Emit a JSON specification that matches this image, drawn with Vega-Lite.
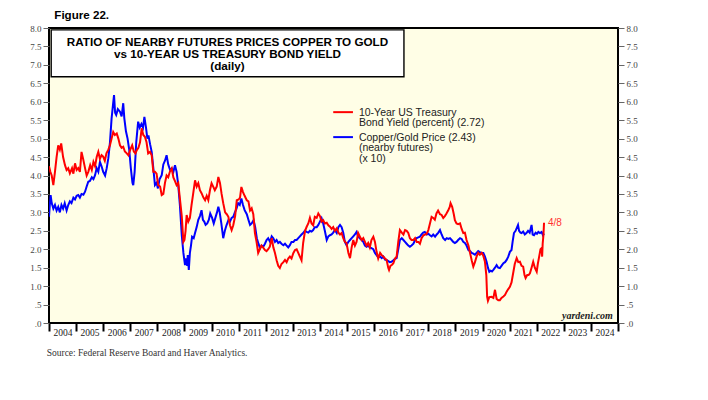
{
  "$schema": "https://vega.github.io/schema/vega-lite/v6.json",
  "width": 569,
  "height": 295,
  "autosize": {"type": "none"},
  "padding": {"left": 49, "top": 28, "right": 90, "bottom": 77},
  "background": "white",
  "config": {
    "view": {"fill": "#fffee6", "stroke": "black", "strokeWidth": 2}
  },
  "datasets": {
    "yld": [
      {"t":2004.00,"v":4.25},{"t":2004.05,"v":4.1},{"t":2004.10,"v":4.0},{"t":2004.16,"v":3.74},{"t":2004.22,"v":4.1},{"t":2004.28,"v":4.5},{"t":2004.34,"v":4.82},{"t":2004.40,"v":4.7},{"t":2004.45,"v":4.87},{"t":2004.52,"v":4.5},{"t":2004.59,"v":4.28},{"t":2004.65,"v":4.15},{"t":2004.71,"v":4.2},{"t":2004.77,"v":4.06},{"t":2004.85,"v":4.2},{"t":2004.90,"v":4.05},{"t":2004.96,"v":4.33},
      {"t":2005.02,"v":4.15},{"t":2005.08,"v":4.2},{"t":2005.14,"v":4.1},{"t":2005.20,"v":4.64},{"t":2005.26,"v":4.45},{"t":2005.33,"v":4.2},{"t":2005.39,"v":4.0},{"t":2005.45,"v":4.1},{"t":2005.52,"v":4.28},{"t":2005.58,"v":4.15},{"t":2005.64,"v":4.37},{"t":2005.70,"v":4.25},{"t":2005.76,"v":4.5},{"t":2005.82,"v":4.64},{"t":2005.88,"v":4.45},{"t":2005.94,"v":4.55},
      {"t":2006.00,"v":4.51},{"t":2006.06,"v":4.4},{"t":2006.12,"v":4.6},{"t":2006.19,"v":4.7},{"t":2006.25,"v":4.82},{"t":2006.31,"v":5.0},{"t":2006.37,"v":5.18},{"t":2006.43,"v":5.1},{"t":2006.50,"v":5.14},{"t":2006.56,"v":5.0},{"t":2006.62,"v":4.82},{"t":2006.68,"v":4.75},{"t":2006.74,"v":4.78},{"t":2006.80,"v":4.65},{"t":2006.87,"v":4.6},{"t":2006.93,"v":4.55},
      {"t":2007.00,"v":4.7},{"t":2007.07,"v":4.82},{"t":2007.13,"v":4.65},{"t":2007.19,"v":4.6},{"t":2007.24,"v":4.69},{"t":2007.30,"v":4.75},{"t":2007.36,"v":4.9},{"t":2007.42,"v":5.28},{"t":2007.48,"v":5.1},{"t":2007.54,"v":5.05},{"t":2007.60,"v":4.9},{"t":2007.66,"v":4.6},{"t":2007.73,"v":4.64},{"t":2007.79,"v":4.55},{"t":2007.85,"v":4.1},{"t":2007.91,"v":4.1},{"t":2007.97,"v":4.05},
      {"t":2008.03,"v":3.74},{"t":2008.10,"v":3.7},{"t":2008.16,"v":3.47},{"t":2008.22,"v":3.5},{"t":2008.28,"v":3.8},{"t":2008.34,"v":4.0},{"t":2008.40,"v":3.95},{"t":2008.46,"v":4.1},{"t":2008.53,"v":4.19},{"t":2008.59,"v":3.95},{"t":2008.65,"v":3.85},{"t":2008.71,"v":3.74},{"t":2008.77,"v":3.8},{"t":2008.83,"v":3.38},{"t":2008.90,"v":2.9},{"t":2008.96,"v":2.2},
      {"t":2009.00,"v":2.25},{"t":2009.04,"v":2.5},{"t":2009.08,"v":2.93},{"t":2009.14,"v":2.75},{"t":2009.20,"v":2.85},{"t":2009.26,"v":3.2},{"t":2009.32,"v":3.5},{"t":2009.39,"v":3.87},{"t":2009.45,"v":3.7},{"t":2009.51,"v":3.79},{"t":2009.57,"v":3.6},{"t":2009.63,"v":3.52},{"t":2009.70,"v":3.4},{"t":2009.76,"v":3.33},{"t":2009.82,"v":3.45},{"t":2009.88,"v":3.33},{"t":2009.94,"v":3.6},
      {"t":2010.00,"v":3.79},{"t":2010.06,"v":3.7},{"t":2010.12,"v":3.6},{"t":2010.19,"v":3.7},{"t":2010.25,"v":3.96},{"t":2010.31,"v":3.8},{"t":2010.37,"v":3.5},{"t":2010.43,"v":3.25},{"t":2010.50,"v":3.0},{"t":2010.56,"v":2.95},{"t":2010.62,"v":2.88},{"t":2010.68,"v":2.65},{"t":2010.74,"v":2.52},{"t":2010.80,"v":2.65},{"t":2010.87,"v":2.9},{"t":2010.93,"v":3.33},
      {"t":2011.00,"v":3.35},{"t":2011.05,"v":3.4},{"t":2011.10,"v":3.69},{"t":2011.16,"v":3.55},{"t":2011.22,"v":3.45},{"t":2011.30,"v":3.33},{"t":2011.36,"v":3.3},{"t":2011.42,"v":3.05},{"t":2011.48,"v":3.11},{"t":2011.54,"v":2.95},{"t":2011.60,"v":2.44},{"t":2011.66,"v":2.2},{"t":2011.72,"v":1.9},{"t":2011.78,"v":2.0},{"t":2011.84,"v":2.1},{"t":2011.90,"v":2.05},{"t":2011.97,"v":1.98},
      {"t":2012.03,"v":1.95},{"t":2012.09,"v":2.0},{"t":2012.15,"v":2.07},{"t":2012.22,"v":2.3},{"t":2012.28,"v":2.05},{"t":2012.34,"v":1.9},{"t":2012.40,"v":1.7},{"t":2012.46,"v":1.55},{"t":2012.52,"v":1.49},{"t":2012.58,"v":1.6},{"t":2012.65,"v":1.65},{"t":2012.71,"v":1.71},{"t":2012.77,"v":1.65},{"t":2012.83,"v":1.75},{"t":2012.89,"v":1.8},{"t":2012.95,"v":1.75},
      {"t":2013.02,"v":1.9},{"t":2013.08,"v":1.98},{"t":2013.14,"v":2.0},{"t":2013.20,"v":1.9},{"t":2013.26,"v":1.8},{"t":2013.32,"v":1.7},{"t":2013.38,"v":2.17},{"t":2013.45,"v":2.5},{"t":2013.51,"v":2.61},{"t":2013.57,"v":2.7},{"t":2013.63,"v":2.85},{"t":2013.69,"v":2.7},{"t":2013.75,"v":2.65},{"t":2013.81,"v":2.88},{"t":2013.88,"v":2.85},{"t":2013.94,"v":2.97},
      {"t":2014.00,"v":2.9},{"t":2014.06,"v":2.75},{"t":2014.12,"v":2.79},{"t":2014.18,"v":2.7},{"t":2014.25,"v":2.72},{"t":2014.31,"v":2.65},{"t":2014.37,"v":2.61},{"t":2014.43,"v":2.55},{"t":2014.49,"v":2.6},{"t":2014.55,"v":2.5},{"t":2014.62,"v":2.57},{"t":2014.68,"v":2.45},{"t":2014.74,"v":2.4},{"t":2014.80,"v":2.44},{"t":2014.86,"v":2.3},{"t":2014.92,"v":2.2},{"t":2014.98,"v":2.17},
      {"t":2015.05,"v":1.9},{"t":2015.11,"v":1.76},{"t":2015.17,"v":2.05},{"t":2015.23,"v":2.25},{"t":2015.29,"v":2.1},{"t":2015.35,"v":2.2},{"t":2015.41,"v":2.44},{"t":2015.47,"v":2.35},{"t":2015.54,"v":2.25},{"t":2015.60,"v":2.3},{"t":2015.66,"v":2.2},{"t":2015.72,"v":2.1},{"t":2015.78,"v":2.17},{"t":2015.84,"v":2.05},{"t":2015.90,"v":2.25},{"t":2015.97,"v":2.34},
      {"t":2016.03,"v":2.2},{"t":2016.09,"v":1.93},{"t":2016.15,"v":1.75},{"t":2016.22,"v":1.9},{"t":2016.28,"v":1.84},{"t":2016.34,"v":1.8},{"t":2016.40,"v":1.75},{"t":2016.46,"v":1.71},{"t":2016.52,"v":1.5},{"t":2016.55,"v":1.44},{"t":2016.60,"v":1.55},{"t":2016.66,"v":1.58},{"t":2016.71,"v":1.62},{"t":2016.77,"v":1.75},{"t":2016.83,"v":1.8},{"t":2016.89,"v":2.2},{"t":2016.95,"v":2.52},
      {"t":2017.02,"v":2.45},{"t":2017.08,"v":2.4},{"t":2017.14,"v":2.52},{"t":2017.20,"v":2.5},{"t":2017.26,"v":2.44},{"t":2017.32,"v":2.3},{"t":2017.38,"v":2.25},{"t":2017.45,"v":2.25},{"t":2017.51,"v":2.3},{"t":2017.57,"v":2.2},{"t":2017.63,"v":2.2},{"t":2017.69,"v":2.15},{"t":2017.75,"v":2.3},{"t":2017.82,"v":2.38},{"t":2017.88,"v":2.4},{"t":2017.94,"v":2.42},
      {"t":2018.00,"v":2.52},{"t":2018.06,"v":2.7},{"t":2018.12,"v":2.88},{"t":2018.18,"v":2.85},{"t":2018.24,"v":2.8},{"t":2018.30,"v":2.97},{"t":2018.36,"v":3.05},{"t":2018.43,"v":2.95},{"t":2018.49,"v":2.93},{"t":2018.55,"v":2.85},{"t":2018.61,"v":2.9},{"t":2018.67,"v":2.97},{"t":2018.73,"v":3.05},{"t":2018.79,"v":3.15},{"t":2018.82,"v":3.25},{"t":2018.88,"v":3.15},{"t":2018.94,"v":2.95},{"t":2018.98,"v":2.79},
      {"t":2019.04,"v":2.7},{"t":2019.10,"v":2.68},{"t":2019.17,"v":2.7},{"t":2019.23,"v":2.55},{"t":2019.29,"v":2.44},{"t":2019.35,"v":2.45},{"t":2019.41,"v":2.25},{"t":2019.48,"v":2.1},{"t":2019.54,"v":1.9},{"t":2019.60,"v":1.7},{"t":2019.66,"v":1.53},{"t":2019.72,"v":1.65},{"t":2019.78,"v":1.8},{"t":2019.84,"v":1.9},{"t":2019.90,"v":1.85},{"t":2019.97,"v":1.9},
      {"t":2020.03,"v":1.82},{"t":2020.09,"v":1.66},{"t":2020.14,"v":1.3},{"t":2020.17,"v":0.71},{"t":2020.20,"v":0.6},{"t":2020.25,"v":0.7},{"t":2020.33,"v":0.71},{"t":2020.40,"v":0.68},{"t":2020.46,"v":0.9},{"t":2020.52,"v":0.65},{"t":2020.58,"v":0.62},{"t":2020.64,"v":0.62},{"t":2020.70,"v":0.68},{"t":2020.77,"v":0.72},{"t":2020.83,"v":0.76},{"t":2020.89,"v":0.85},{"t":2020.95,"v":0.92},
      {"t":2021.01,"v":0.98},{"t":2021.07,"v":1.1},{"t":2021.13,"v":1.35},{"t":2021.19,"v":1.6},{"t":2021.26,"v":1.76},{"t":2021.32,"v":1.65},{"t":2021.38,"v":1.66},{"t":2021.44,"v":1.55},{"t":2021.50,"v":1.53},{"t":2021.55,"v":1.3},{"t":2021.59,"v":1.22},{"t":2021.65,"v":1.3},{"t":2021.70,"v":1.3},{"t":2021.75,"v":1.35},{"t":2021.81,"v":1.5},{"t":2021.87,"v":1.66},{"t":2021.93,"v":1.5},
      {"t":2022.00,"v":1.39},{"t":2022.04,"v":1.6},{"t":2022.09,"v":1.8},{"t":2022.14,"v":2.0},{"t":2022.18,"v":2.03},{"t":2022.20,"v":1.8},{"t":2022.22,"v":2.15},{"t":2022.25,"v":2.4},{"t":2022.27,"v":2.72}
    ],
    "cg": [
      {"t":2004.00,"v":2.88},{"t":2004.03,"v":3.2},{"t":2004.06,"v":3.47},{"t":2004.10,"v":3.25},{"t":2004.16,"v":3.1},{"t":2004.22,"v":3.2},{"t":2004.28,"v":3.05},{"t":2004.34,"v":3.15},{"t":2004.40,"v":3.0},{"t":2004.46,"v":3.2},{"t":2004.52,"v":3.1},{"t":2004.58,"v":3.25},{"t":2004.65,"v":3.05},{"t":2004.71,"v":3.2},{"t":2004.77,"v":3.3},{"t":2004.83,"v":3.25},{"t":2004.90,"v":3.4},{"t":2004.96,"v":3.35},
      {"t":2005.02,"v":3.45},{"t":2005.08,"v":3.47},{"t":2005.14,"v":3.4},{"t":2005.20,"v":3.5},{"t":2005.27,"v":3.48},{"t":2005.33,"v":3.56},{"t":2005.39,"v":3.7},{"t":2005.45,"v":3.83},{"t":2005.51,"v":3.85},{"t":2005.58,"v":3.95},{"t":2005.64,"v":3.9},{"t":2005.70,"v":4.01},{"t":2005.76,"v":4.2},{"t":2005.82,"v":4.1},{"t":2005.88,"v":4.37},{"t":2005.94,"v":4.25},
      {"t":2006.00,"v":4.1},{"t":2006.07,"v":4.0},{"t":2006.13,"v":4.2},{"t":2006.19,"v":4.47},{"t":2006.25,"v":4.9},{"t":2006.31,"v":5.55},{"t":2006.36,"v":5.9},{"t":2006.40,"v":6.18},{"t":2006.44,"v":5.7},{"t":2006.48,"v":5.64},{"t":2006.54,"v":5.8},{"t":2006.62,"v":5.73},{"t":2006.68,"v":5.6},{"t":2006.74,"v":5.96},{"t":2006.78,"v":5.55},{"t":2006.84,"v":5.2},{"t":2006.90,"v":5.0},{"t":2006.96,"v":4.7},
      {"t":2007.02,"v":4.2},{"t":2007.08,"v":3.8},{"t":2007.11,"v":3.74},{"t":2007.16,"v":4.1},{"t":2007.22,"v":4.9},{"t":2007.29,"v":5.46},{"t":2007.35,"v":5.3},{"t":2007.41,"v":5.4},{"t":2007.47,"v":5.3},{"t":2007.52,"v":5.59},{"t":2007.58,"v":5.3},{"t":2007.63,"v":5.0},{"t":2007.67,"v":5.09},{"t":2007.73,"v":4.85},{"t":2007.79,"v":4.64},{"t":2007.85,"v":4.2},{"t":2007.91,"v":3.74},{"t":2007.97,"v":3.8},
      {"t":2008.02,"v":3.65},{"t":2008.08,"v":3.9},{"t":2008.16,"v":4.01},{"t":2008.22,"v":4.3},{"t":2008.28,"v":4.4},{"t":2008.34,"v":4.55},{"t":2008.40,"v":4.3},{"t":2008.47,"v":4.15},{"t":2008.53,"v":4.19},{"t":2008.59,"v":4.1},{"t":2008.65,"v":4.28},{"t":2008.71,"v":4.1},{"t":2008.77,"v":3.74},{"t":2008.83,"v":3.2},{"t":2008.90,"v":2.38},{"t":2008.96,"v":1.9},
      {"t":2009.02,"v":1.57},{"t":2009.06,"v":1.75},{"t":2009.10,"v":1.55},{"t":2009.12,"v":1.84},{"t":2009.16,"v":1.44},{"t":2009.20,"v":1.9},{"t":2009.24,"v":2.1},{"t":2009.28,"v":2.34},{"t":2009.34,"v":2.3},{"t":2009.39,"v":2.44},{"t":2009.45,"v":2.6},{"t":2009.51,"v":2.8},{"t":2009.57,"v":2.9},{"t":2009.63,"v":3.06},{"t":2009.68,"v":2.8},{"t":2009.73,"v":2.75},{"t":2009.78,"v":2.66},{"t":2009.84,"v":2.7},{"t":2009.90,"v":2.8},{"t":2009.95,"v":2.97},
      {"t":2010.02,"v":2.85},{"t":2010.08,"v":2.7},{"t":2010.14,"v":2.85},{"t":2010.20,"v":3.0},{"t":2010.25,"v":3.15},{"t":2010.30,"v":3.0},{"t":2010.36,"v":2.7},{"t":2010.43,"v":2.3},{"t":2010.49,"v":2.5},{"t":2010.55,"v":2.65},{"t":2010.62,"v":2.79},{"t":2010.68,"v":2.75},{"t":2010.74,"v":2.85},{"t":2010.80,"v":2.88},{"t":2010.86,"v":3.0},{"t":2010.92,"v":3.1},{"t":2010.98,"v":3.25},
      {"t":2011.04,"v":3.2},{"t":2011.10,"v":3.38},{"t":2011.16,"v":3.2},{"t":2011.22,"v":3.06},{"t":2011.30,"v":2.95},{"t":2011.36,"v":2.8},{"t":2011.42,"v":2.66},{"t":2011.48,"v":2.7},{"t":2011.55,"v":2.79},{"t":2011.61,"v":2.6},{"t":2011.67,"v":2.3},{"t":2011.73,"v":2.15},{"t":2011.79,"v":2.03},{"t":2011.85,"v":2.1},{"t":2011.91,"v":2.07},{"t":2011.97,"v":2.15},
      {"t":2012.03,"v":2.25},{"t":2012.09,"v":2.3},{"t":2012.16,"v":2.2},{"t":2012.22,"v":2.35},{"t":2012.28,"v":2.3},{"t":2012.34,"v":2.2},{"t":2012.40,"v":2.25},{"t":2012.46,"v":2.17},{"t":2012.52,"v":2.2},{"t":2012.58,"v":2.15},{"t":2012.65,"v":2.11},{"t":2012.71,"v":2.15},{"t":2012.77,"v":2.1},{"t":2012.83,"v":2.05},{"t":2012.89,"v":2.11},{"t":2012.95,"v":2.2},
      {"t":2013.02,"v":2.2},{"t":2013.08,"v":2.25},{"t":2013.14,"v":2.25},{"t":2013.20,"v":2.3},{"t":2013.26,"v":2.35},{"t":2013.32,"v":2.4},{"t":2013.38,"v":2.44},{"t":2013.44,"v":2.5},{"t":2013.51,"v":2.47},{"t":2013.57,"v":2.45},{"t":2013.63,"v":2.5},{"t":2013.69,"v":2.48},{"t":2013.75,"v":2.52},{"t":2013.81,"v":2.6},{"t":2013.88,"v":2.6},{"t":2013.94,"v":2.66},
      {"t":2014.00,"v":2.75},{"t":2014.06,"v":2.84},{"t":2014.12,"v":2.7},{"t":2014.18,"v":2.5},{"t":2014.25,"v":2.25},{"t":2014.31,"v":2.35},{"t":2014.37,"v":2.38},{"t":2014.43,"v":2.4},{"t":2014.49,"v":2.45},{"t":2014.55,"v":2.52},{"t":2014.62,"v":2.44},{"t":2014.68,"v":2.6},{"t":2014.74,"v":2.66},{"t":2014.80,"v":2.6},{"t":2014.86,"v":2.45},{"t":2014.92,"v":2.2},{"t":2014.98,"v":2.11},
      {"t":2015.05,"v":2.2},{"t":2015.11,"v":2.25},{"t":2015.17,"v":2.3},{"t":2015.23,"v":2.35},{"t":2015.29,"v":2.4},{"t":2015.35,"v":2.47},{"t":2015.41,"v":2.35},{"t":2015.47,"v":2.3},{"t":2015.54,"v":2.25},{"t":2015.60,"v":2.2},{"t":2015.66,"v":2.1},{"t":2015.72,"v":2.07},{"t":2015.78,"v":2.1},{"t":2015.84,"v":2.05},{"t":2015.90,"v":2.03},{"t":2015.97,"v":2.0},
      {"t":2016.03,"v":1.9},{"t":2016.09,"v":1.84},{"t":2016.15,"v":1.78},{"t":2016.22,"v":1.8},{"t":2016.28,"v":1.76},{"t":2016.34,"v":1.8},{"t":2016.40,"v":1.72},{"t":2016.46,"v":1.71},{"t":2016.52,"v":1.68},{"t":2016.58,"v":1.65},{"t":2016.64,"v":1.66},{"t":2016.71,"v":1.7},{"t":2016.77,"v":1.74},{"t":2016.83,"v":1.76},{"t":2016.89,"v":2.0},{"t":2016.95,"v":2.25},
      {"t":2017.02,"v":2.3},{"t":2017.08,"v":2.25},{"t":2017.14,"v":2.2},{"t":2017.20,"v":2.15},{"t":2017.26,"v":2.1},{"t":2017.32,"v":2.07},{"t":2017.38,"v":2.1},{"t":2017.45,"v":2.15},{"t":2017.51,"v":2.25},{"t":2017.57,"v":2.3},{"t":2017.63,"v":2.32},{"t":2017.69,"v":2.34},{"t":2017.75,"v":2.4},{"t":2017.81,"v":2.45},{"t":2017.87,"v":2.47},{"t":2017.94,"v":2.4},
      {"t":2018.00,"v":2.42},{"t":2018.06,"v":2.38},{"t":2018.12,"v":2.35},{"t":2018.18,"v":2.4},{"t":2018.25,"v":2.34},{"t":2018.31,"v":2.4},{"t":2018.37,"v":2.45},{"t":2018.43,"v":2.52},{"t":2018.49,"v":2.4},{"t":2018.55,"v":2.3},{"t":2018.62,"v":2.25},{"t":2018.68,"v":2.3},{"t":2018.74,"v":2.28},{"t":2018.80,"v":2.3},{"t":2018.86,"v":2.25},{"t":2018.92,"v":2.2},{"t":2018.98,"v":2.17},
      {"t":2019.04,"v":2.2},{"t":2019.10,"v":2.25},{"t":2019.17,"v":2.3},{"t":2019.23,"v":2.28},{"t":2019.29,"v":2.2},{"t":2019.35,"v":2.17},{"t":2019.41,"v":2.1},{"t":2019.48,"v":1.98},{"t":2019.54,"v":1.95},{"t":2019.60,"v":1.9},{"t":2019.66,"v":1.88},{"t":2019.72,"v":1.85},{"t":2019.78,"v":1.9},{"t":2019.84,"v":1.95},{"t":2019.90,"v":1.92},{"t":2019.97,"v":1.9},
      {"t":2020.03,"v":1.9},{"t":2020.09,"v":1.8},{"t":2020.15,"v":1.66},{"t":2020.20,"v":1.5},{"t":2020.25,"v":1.39},{"t":2020.30,"v":1.42},{"t":2020.35,"v":1.4},{"t":2020.40,"v":1.44},{"t":2020.46,"v":1.5},{"t":2020.52,"v":1.57},{"t":2020.58,"v":1.5},{"t":2020.64,"v":1.49},{"t":2020.70,"v":1.55},{"t":2020.77,"v":1.62},{"t":2020.83,"v":1.65},{"t":2020.89,"v":1.71},{"t":2020.95,"v":1.8},
      {"t":2021.01,"v":1.93},{"t":2021.07,"v":1.98},{"t":2021.11,"v":2.2},{"t":2021.16,"v":2.44},{"t":2021.22,"v":2.5},{"t":2021.31,"v":2.66},{"t":2021.35,"v":2.5},{"t":2021.40,"v":2.45},{"t":2021.44,"v":2.44},{"t":2021.50,"v":2.48},{"t":2021.56,"v":2.4},{"t":2021.62,"v":2.44},{"t":2021.68,"v":2.5},{"t":2021.74,"v":2.45},{"t":2021.81,"v":2.66},{"t":2021.85,"v":2.4},{"t":2021.90,"v":2.38},{"t":2021.96,"v":2.45},
      {"t":2022.01,"v":2.42},{"t":2022.06,"v":2.47},{"t":2022.12,"v":2.44},{"t":2022.18,"v":2.47},{"t":2022.23,"v":2.38},{"t":2022.27,"v":2.43}
    ]
  },
  "resolve": {"scale": {"x": "shared", "y": "shared"}, "axis": {"x": "independent", "y": "independent"}},
  "layer": [
    {
      "data": {"name": "cg"},
      "mark": {"type": "line", "color": "#0000ff", "strokeWidth": 2, "clip": true},
      "encoding": {
        "x": {
          "field": "t", "type": "quantitative",
          "scale": {"domain": [2004, 2025], "nice": false, "zero": false},
          "axis": {
            "title": null, "values": [2004,2005,2006,2007,2008,2009,2010,2011,2012,2013,2014,2015,2016,2017,2018,2019,2020,2021,2022,2023,2024,2025],
            "labelExpr": "datum.value >= 2025 ? '' : '' + datum.value",
            "labelOffset": 13.5, "labelFlush": false, "labelOverlap": false, "labelBound": false,
            "labelFont": "Liberation Serif", "labelFontSize": 9.5, "labelColor": "#222",
            "labelPadding": -4, "tickSize": 8, "tickWidth": 2, "tickColor": "black",
            "domain": false, "grid": false
          }
        },
        "y": {
          "field": "v", "type": "quantitative",
          "scale": {"domain": [0, 8], "nice": false, "zero": true},
          "axis": {
            "orient": "left", "title": null,
            "values": [0,0.5,1,1.5,2,2.5,3,3.5,4,4.5,5,5.5,6,6.5,7,7.5,8],
            "labelExpr": "datum.value < 1 ? replace(format(datum.value, '.1f'), '0.', '.') : format(datum.value, '.1f')",
            "labelFont": "Liberation Serif", "labelFontSize": 9, "labelColor": "#444",
            "tickSize": 6, "tickColor": "#666", "tickWidth": 1, "labelPadding": 2,
            "domain": false, "grid": false, "labelFlush": false, "labelOverlap": false
          }
        }
      }
    },
    {
      "data": {"name": "yld"},
      "mark": {"type": "line", "color": "#ff0000", "strokeWidth": 2, "clip": true},
      "encoding": {
        "x": {"field": "t", "type": "quantitative", "axis": null},
        "y": {
          "field": "v", "type": "quantitative",
          "axis": {
            "orient": "right", "title": null,
            "values": [0,0.5,1,1.5,2,2.5,3,3.5,4,4.5,5,5.5,6,6.5,7,7.5,8],
            "labelExpr": "datum.value < 1 ? replace(format(datum.value, '.1f'), '0.', '.') : format(datum.value, '.1f')",
            "labelFont": "Liberation Serif", "labelFontSize": 9, "labelColor": "#444",
            "tickSize": 6, "tickColor": "#666", "tickWidth": 1, "labelPadding": 2,
            "domain": false, "grid": false, "labelFlush": false, "labelOverlap": false
          }
        }
      }
    },
    {
      "data": {"name": "yld"},
      "transform": [{"filter": "datum.t >= 2022.27"}],
      "mark": {"type": "text", "align": "left", "baseline": "middle", "dx": 4, "font": "Liberation Sans", "fontSize": 10, "color": "#ff3030"},
      "encoding": {
        "x": {"field": "t", "type": "quantitative", "axis": null},
        "y": {"field": "v", "type": "quantitative", "axis": null},
        "text": {"value": "4/8"}
      }
    },
    {
      "data": {"values": [{}]},
      "mark": {"type": "rect", "fill": "white", "stroke": "black", "strokeWidth": 1.4},
      "encoding": {
        "x": {"datum": 2004.081, "type": "quantitative", "axis": null},
        "x2": {"datum": 2017.10},
        "y": {"datum": 7.948, "type": "quantitative", "axis": null},
        "y2": {"datum": 6.68}
      }
    },
    {
      "data": {"values": [{}]},
      "mark": {"type": "text", "align": "center", "baseline": "top", "font": "Liberation Sans", "fontSize": 11.7, "fontWeight": "bold", "color": "black", "lineHeight": 11.7},
      "encoding": {
        "x": {"datum": 2010.587, "type": "quantitative", "axis": null},
        "y": {"datum": 7.743, "type": "quantitative", "axis": null},
        "text": {"value": ["RATIO OF NEARBY FUTURES PRICES COPPER TO GOLD", "vs 10-YEAR US TREASURY BOND YIELD", "(daily)"]}
      }
    },
    {
      "data": {"values": [{}]},
      "mark": {"type": "rule", "color": "#ff0000", "strokeWidth": 2},
      "encoding": {
        "x": {"datum": 2014.49, "type": "quantitative", "axis": null},
        "x2": {"datum": 2015.218},
        "y": {"datum": 5.718, "type": "quantitative", "axis": null}
      }
    },
    {
      "data": {"values": [{}]},
      "mark": {"type": "rule", "color": "#0000ff", "strokeWidth": 2},
      "encoding": {
        "x": {"datum": 2014.49, "type": "quantitative", "axis": null},
        "x2": {"datum": 2015.218},
        "y": {"datum": 5.041, "type": "quantitative", "axis": null}
      }
    },
    {
      "data": {"values": [{}]},
      "mark": {"type": "text", "align": "left", "baseline": "top", "font": "Liberation Sans", "fontSize": 10.5, "color": "#222", "lineHeight": 10.8},
      "encoding": {
        "x": {"datum": 2015.439, "type": "quantitative", "axis": null},
        "y": {"datum": 5.843, "type": "quantitative", "axis": null},
        "text": {"value": ["10-Year US Treasury", "Bond Yield (percent) (2.72)"]}
      }
    },
    {
      "data": {"values": [{}]},
      "mark": {"type": "text", "align": "left", "baseline": "top", "font": "Liberation Sans", "fontSize": 10.5, "color": "#222", "lineHeight": 10.8},
      "encoding": {
        "x": {"datum": 2015.439, "type": "quantitative", "axis": null},
        "y": {"datum": 5.165, "type": "quantitative", "axis": null},
        "text": {"value": ["Copper/Gold Price (2.43)", "(nearby futures)", "(x 10)"]}
      }
    },
    {
      "data": {"values": [{}]},
      "mark": {"type": "text", "align": "right", "baseline": "middle", "font": "Liberation Serif", "fontSize": 10, "fontWeight": "bold", "fontStyle": "italic", "color": "#222"},
      "encoding": {
        "x": {"datum": 2024.81, "type": "quantitative", "axis": null},
        "y": {"datum": 0.19, "type": "quantitative", "axis": null},
        "text": {"value": "yardeni.com"}
      }
    },
    {
      "data": {"values": [{}]},
      "mark": {"type": "text", "align": "left", "baseline": "middle", "font": "Liberation Sans", "fontSize": 11.6, "fontWeight": "bold", "color": "black"},
      "encoding": {
        "x": {"datum": 2004.196, "type": "quantitative", "axis": null},
        "y": {"datum": 8.32, "type": "quantitative", "axis": null},
        "text": {"value": "Figure 22."}
      }
    },
    {
      "data": {"values": [{}]},
      "mark": {"type": "text", "align": "left", "baseline": "middle", "font": "Liberation Serif", "fontSize": 9.5, "color": "#333"},
      "encoding": {
        "x": {"datum": 2003.915, "type": "quantitative", "axis": null},
        "y": {"datum": -0.80, "type": "quantitative", "axis": null},
        "text": {"value": "Source: Federal Reserve Board and Haver Analytics."}
      }
    }
  ]
}
